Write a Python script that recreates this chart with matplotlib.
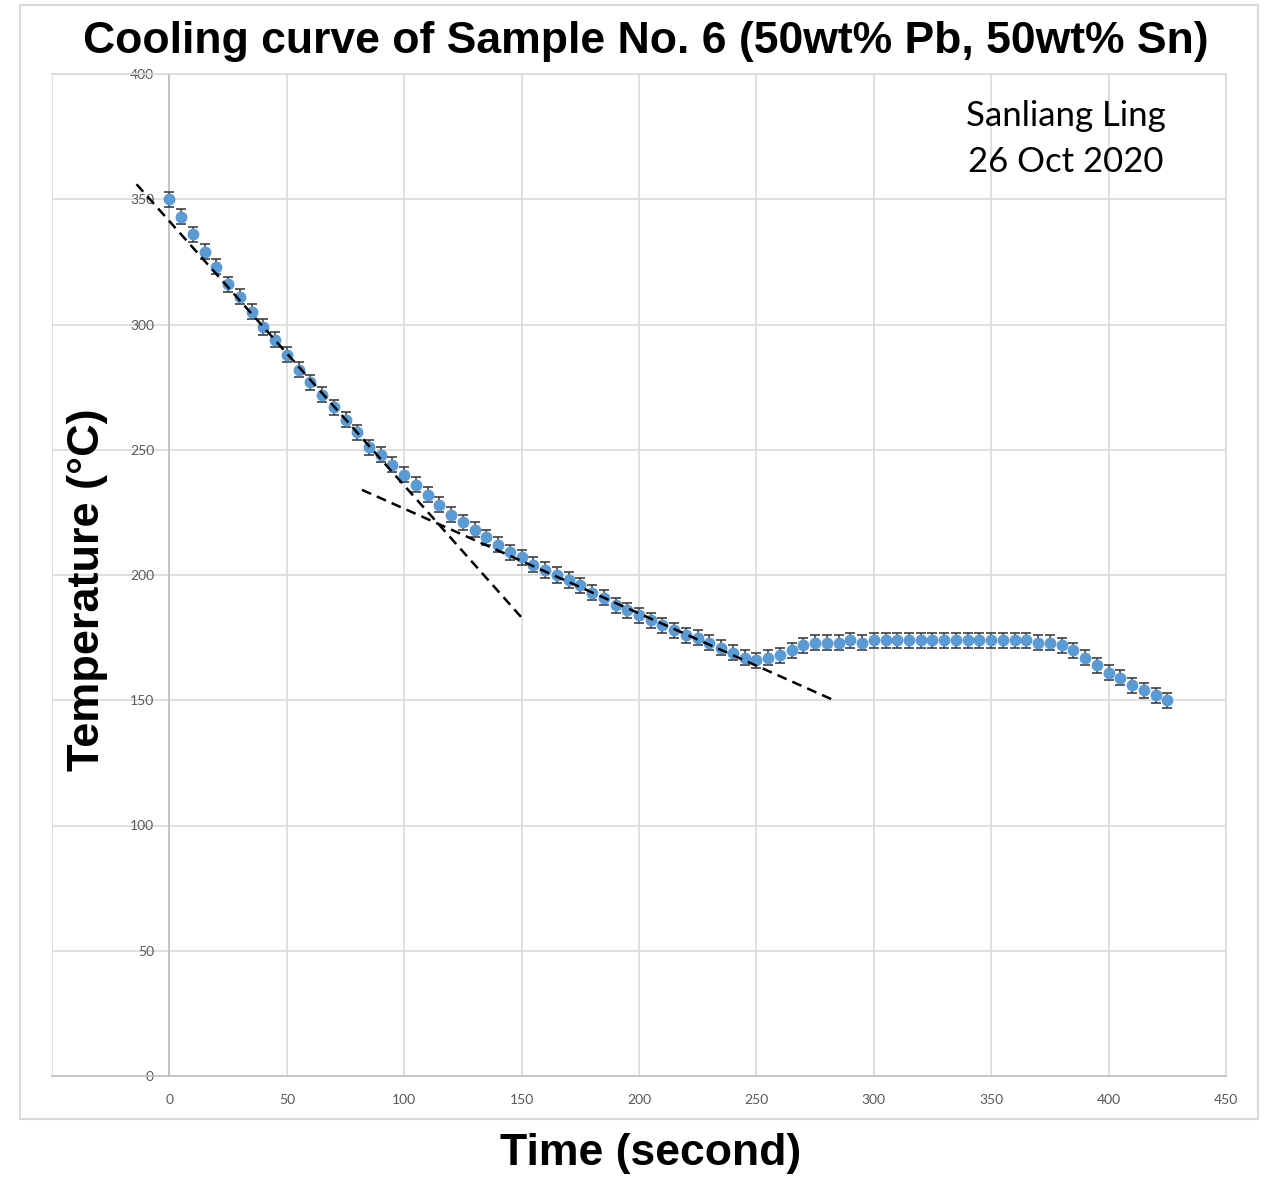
import matplotlib
matplotlib.use('Agg')
import matplotlib.pyplot as plt
from matplotlib.patches import Rectangle
import numpy as np

# measured cooling curve (every 5 s)
time_s = [0, 5, 10, 15, 20, 25, 30, 35, 40, 45, 50, 55, 60, 65, 70, 75, 80, 85,
          90, 95, 100, 105, 110, 115, 120, 125, 130, 135, 140, 145, 150, 155,
          160, 165, 170, 175, 180, 185, 190, 195, 200, 205, 210, 215, 220, 225,
          230, 235, 240, 245, 250, 255, 260, 265, 270, 275, 280, 285, 290, 295,
          300, 305, 310, 315, 320, 325, 330, 335, 340, 345, 350, 355, 360, 365,
          370, 375, 380, 385, 390, 395, 400, 405, 410, 415, 420, 425]
temp_c = [350, 343, 336, 329, 323, 316, 311, 305, 299, 294, 288, 282, 277, 272,
          267, 262, 257, 251, 248, 244, 240, 236, 232, 228, 224, 221, 218, 215,
          212, 209, 207, 204, 202, 200, 198, 196, 193, 191, 188, 186, 184, 182,
          180, 178, 176, 175, 173, 171, 169, 167, 166, 167, 168, 170, 172, 173,
          173, 173, 174, 173, 174, 174, 174, 174, 174, 174, 174, 174, 174, 174,
          174, 174, 174, 174, 173, 173, 172, 170, 167, 164, 161, 159, 156, 154,
          152, 150]
temp_err = 3

# hand-drawn tangent lines
liquid_fit_t = [-14, 150]
liquid_fit_T = [356, 183]
mushy_fit_t = [82, 283]
mushy_fit_T = [234, 150]

x_ticks = [0, 50, 100, 150, 200, 250, 300, 350, 400, 450]
y_ticks = [0, 50, 100, 150, 200, 250, 300, 350, 400]

W, H = 1266, 1177
fig = plt.figure(figsize=(W / 100, H / 100), dpi=100)

# outer chart frame
fig.patches.append(Rectangle((20 / W, 1 - 1119 / H), 1238 / W, 1114 / H,
                             transform=fig.transFigure, fill=False,
                             edgecolor='#D9D9D9', linewidth=1.5))

ax = fig.add_axes([52 / W, 1 - 1076 / H, (1226 - 52) / W, (1076 - 74) / H])
ax.set_xlim(-50, 450)
ax.set_ylim(0, 400)

grid_col = '#D9D9D9'
ax.set_xticks(x_ticks)
ax.set_yticks(y_ticks)
ax.grid(True, color=grid_col, linewidth=1.2, zorder=0)
ax.axvline(-50, color=grid_col, linewidth=1.2, zorder=0)

for side in ['top', 'right']:
    ax.spines[side].set_color(grid_col)
    ax.spines[side].set_linewidth(1.2)
ax.spines['left'].set_position(('data', 0))
ax.spines['left'].set_color('#BFBFBF')
ax.spines['left'].set_linewidth(1.2)
ax.spines['bottom'].set_color('#BFBFBF')
ax.spines['bottom'].set_linewidth(1.2)

ax.tick_params(axis='both', length=0, labelsize=10, labelcolor='#595959')
ax.tick_params(axis='y', pad=11)
ax.tick_params(axis='x', pad=13)
for lbl in ax.get_xticklabels() + ax.get_yticklabels():
    lbl.set_family('Lato')

ax.errorbar(time_s, temp_c, yerr=temp_err, fmt='o', color='#5B9BD5',
            markersize=7.5, ecolor='#404040', elinewidth=1.2, capsize=3.5,
            capthick=1.2, zorder=3)

ax.plot(liquid_fit_t, liquid_fit_T, color='black', linewidth=1.8,
        linestyle=(0, (4, 2.5)), zorder=4)
ax.plot(mushy_fit_t, mushy_fit_T, color='black', linewidth=1.8,
        linestyle=(0, (4, 2.5)), zorder=4)

fig.text(1066 / W, 1 - 116 / H, 'Sanliang Ling', family='Lato', fontsize=25,
         ha='center', va='center')
fig.text(1066 / W, 1 - 162 / H, '26 Oct 2020', family='Lato', fontsize=25,
         ha='center', va='center')

fig.text(646 / W, 1 - 41 / H, 'Cooling curve of Sample No. 6 (50wt% Pb, 50wt% Sn)',
         family='Liberation Sans', fontweight='bold', fontsize=32,
         ha='center', va='center')
fig.text(651 / W, 1 - 1153 / H, 'Time (second)', family='Liberation Sans',
         fontweight='bold', fontsize=32, ha='center', va='center')
fig.text(88 / W, 1 - 590 / H, 'Temperature (°C)', family='Liberation Sans',
         fontweight='bold', fontsize=32.5, ha='center', va='center', rotation=90)

fig.savefig('out.png', dpi=100)
